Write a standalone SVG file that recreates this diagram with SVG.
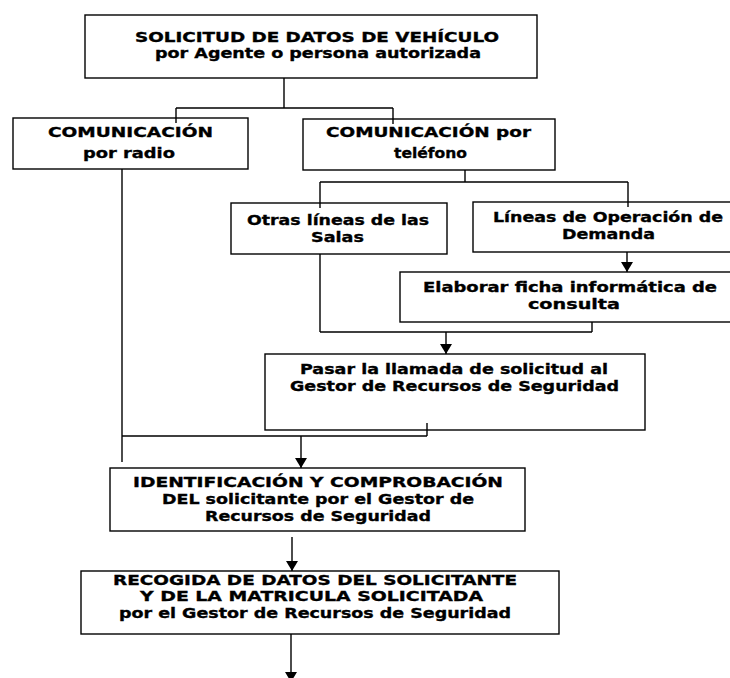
<svg xmlns="http://www.w3.org/2000/svg" width="730" height="678" viewBox="0 0 730 678">
<style>
.box{fill:#fff;stroke:#000;stroke-width:1.4}
.t{font-family:"DejaVu Sans","Verdana","Liberation Sans",sans-serif;font-weight:bold;font-size:14.5px;fill:#000;stroke:#000;stroke-width:0.35}
.c{fill:none;stroke:#000;stroke-width:1.4}
.a{fill:none;stroke:#000;stroke-width:1.4;marker-end:url(#arr)}
</style>
<defs>
<marker id="arr" markerUnits="userSpaceOnUse" markerWidth="14" markerHeight="14" viewBox="0 0 14 14" refX="10" refY="7" orient="auto">
<path d="M0,1 L10,7 L0,13 z" fill="#000"/>
</marker>
</defs>
<rect width="730" height="678" fill="#fff"/>
<g id="n1"><rect class="box" x="85" y="15" width="452" height="63"/>
<text class="t" x="135" y="42" textLength="364" lengthAdjust="spacingAndGlyphs">SOLICITUD DE DATOS DE VEHÍCULO</text>
<text class="t" x="155" y="58" textLength="326" lengthAdjust="spacingAndGlyphs">por Agente o persona autorizada</text></g>
<g id="n2"><rect class="box" x="13" y="118" width="235" height="51"/>
<text class="t" x="48" y="137" textLength="165" lengthAdjust="spacingAndGlyphs">COMUNICACIÓN</text>
<text class="t" x="83" y="158" textLength="92" lengthAdjust="spacingAndGlyphs">por radio</text></g>
<g id="n3"><rect class="box" x="303" y="119" width="252" height="51"/>
<text class="t" x="326" y="137" textLength="205" lengthAdjust="spacingAndGlyphs">COMUNICACIÓN por</text>
<text class="t" x="394" y="158" textLength="73" lengthAdjust="spacingAndGlyphs">teléfono</text></g>
<g id="n4"><rect class="box" x="231" y="203" width="216" height="51"/>
<text class="t" x="247" y="225" textLength="182" lengthAdjust="spacingAndGlyphs">Otras líneas de las</text>
<text class="t" x="311" y="242" textLength="53" lengthAdjust="spacingAndGlyphs">Salas</text></g>
<g id="n5"><rect class="box" x="473" y="202" width="265" height="50"/>
<text class="t" x="493" y="222" textLength="230" lengthAdjust="spacingAndGlyphs">Líneas de Operación de</text>
<text class="t" x="562" y="239" textLength="93" lengthAdjust="spacingAndGlyphs">Demanda</text></g>
<g id="n6"><rect class="box" x="400" y="272" width="338" height="50"/>
<text class="t" x="423" y="292" textLength="294" lengthAdjust="spacingAndGlyphs">Elaborar ficha informática de</text>
<text class="t" x="528" y="309" textLength="92" lengthAdjust="spacingAndGlyphs">consulta</text></g>
<g id="n7"><rect class="box" x="265" y="354" width="380" height="76"/>
<text class="t" x="300" y="374" textLength="308" lengthAdjust="spacingAndGlyphs">Pasar la llamada de solicitud al</text>
<text class="t" x="290" y="391" textLength="329" lengthAdjust="spacingAndGlyphs">Gestor de Recursos de Seguridad</text></g>
<g id="n8"><rect class="box" x="110" y="468" width="415" height="63"/>
<text class="t" x="133" y="487" textLength="370" lengthAdjust="spacingAndGlyphs">IDENTIFICACIÓN Y COMPROBACIÓN</text>
<text class="t" x="162" y="504" textLength="312" lengthAdjust="spacingAndGlyphs">DEL solicitante por el Gestor de</text>
<text class="t" x="205" y="521" textLength="226" lengthAdjust="spacingAndGlyphs">Recursos de Seguridad</text></g>
<g id="n9"><rect class="box" x="81" y="571" width="478" height="63"/>
<text class="t" x="113" y="585" textLength="404" lengthAdjust="spacingAndGlyphs">RECOGIDA DE DATOS DEL SOLICITANTE</text>
<text class="t" x="140" y="601" textLength="343" lengthAdjust="spacingAndGlyphs">Y DE LA MATRICULA SOLICITADA</text>
<text class="t" x="119" y="618" textLength="392" lengthAdjust="spacingAndGlyphs">por el Gestor de Recursos de Seguridad</text></g>
<g id="connectors">
<path class="c" d="M284,78 V108 M176,108 H393 M176,108 V123 M393,108 V124"/>
<path class="c" d="M122,169 V462"/>
<path class="c" d="M465,170 V182 M320,182 H628 M320,182 V208 M628,182 V207"/>
<path class="a" d="M627,252 V272"/>
<path class="c" d="M320,254 V332 M592,322 V332 M320,332 H592"/>
<path class="a" d="M446,332 V354"/>
<path class="c" d="M427,423 V436 M122,436 H427"/>
<path class="a" d="M301,436 V468"/>
<path class="a" d="M292,537 V571"/>
<path class="a" d="M291,634 V682"/>
</g>
</svg>
